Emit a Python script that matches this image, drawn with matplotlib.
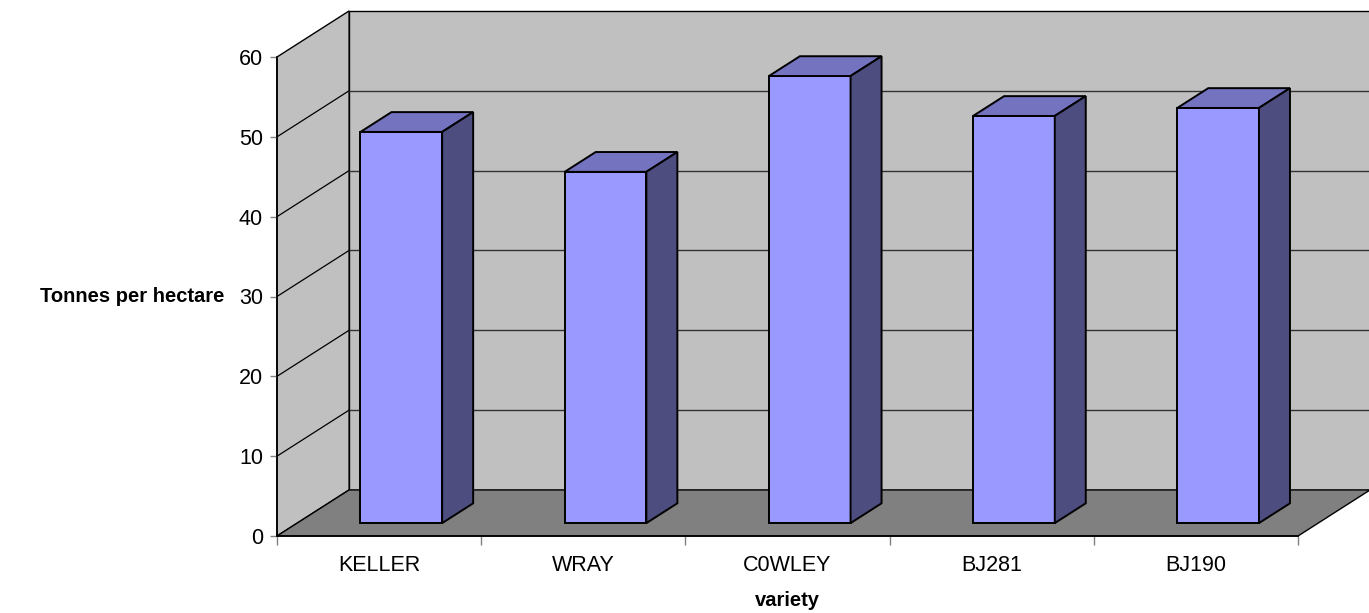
import matplotlib

matplotlib.use("Agg")
import matplotlib.pyplot as plt
from matplotlib.patches import Polygon

varieties = ["KELLER", "WRAY", "C0WLEY", "BJ281", "BJ190"]
tonnes = [49, 44, 56, 51, 52]
y_ticks = [0, 10, 20, 30, 40, 50, 60]

# oblique depth of the 3-D box, in data units (x = categories, y = tonnes)
DX, DY = 0.353, 5.77
BAR_W = 0.40
F0, F1 = 0.28, 0.71  # bar occupies this slice of the box depth

WALL = "#c0c0c0"
FLOOR = "#808080"
FRONT = "#9999ff"
TOP = "#7373bf"
SIDE = "#4d4d80"

plt.rcParams["font.family"] = ["Liberation Sans", "DejaVu Sans"]

fig = plt.figure(figsize=(13.69, 6.13), dpi=100)
ax = fig.add_axes([277 / 1369, 77 / 613, 1021 / 1369, 479 / 613])
n = len(varieties)
ymax = y_ticks[-1]
ax.set_xlim(0, n)
ax.set_ylim(0, ymax)
ax.set_facecolor("none")
for s in ax.spines.values():
    s.set_visible(False)


def poly(pts, fc, ec="black", lw=1.0, z=1):
    ax.add_patch(Polygon(pts, closed=True, facecolor=fc, edgecolor=ec,
                         linewidth=lw, zorder=z, clip_on=False, joinstyle="miter"))


# walls and floor
poly([(DX, DY), (n + DX, DY), (n + DX, ymax + DY), (DX, ymax + DY)], WALL, z=1)
poly([(0, 0), (DX, DY), (DX, ymax + DY), (0, ymax)], WALL, z=1)
poly([(0, 0), (n, 0), (n + DX, DY), (DX, DY)], FLOOR, z=2)

# gridlines on the back and side walls
for v in y_ticks[1:-1]:
    ax.plot([DX, n + DX], [v + DY, v + DY], color="#333333", lw=1.0,
            zorder=1.5, clip_on=False)
    ax.plot([0, DX], [v, v + DY], color="black", lw=0.9, zorder=1.5, clip_on=False)

# bars
for i, v in enumerate(tonnes):
    x0 = i + 0.51 - BAR_W / 2 + F0 * DX
    y0 = F0 * DY
    ddx, ddy = (F1 - F0) * DX, (F1 - F0) * DY
    x1 = x0 + BAR_W
    poly([(x0, y0), (x1, y0), (x1, y0 + v), (x0, y0 + v)], FRONT, lw=1.4, z=5)
    poly([(x0, y0 + v), (x1, y0 + v), (x1 + ddx, y0 + v + ddy), (x0 + ddx, y0 + v + ddy)],
         TOP, lw=1.4, z=5)
    poly([(x1, y0), (x1 + ddx, y0 + ddy), (x1 + ddx, y0 + v + ddy), (x1, y0 + v)],
         SIDE, lw=1.4, z=5)

# front axis lines
ax.plot([0, n], [0, 0], color="black", lw=1.2, zorder=6, clip_on=False)
ax.plot([0, 0], [0, ymax], color="black", lw=1.2, zorder=6, clip_on=False)

ax.set_yticks(y_ticks)
ax.set_yticklabels([str(t) for t in y_ticks], fontsize=15.5)
ax.tick_params(axis="y", length=5, width=1.0, color="#808080", pad=5)

ax.set_xticks(range(n + 1))
ax.set_xticklabels([])
ax.set_xticks([i + 0.5 for i in range(n)], minor=True)
ax.set_xticklabels(varieties, minor=True, fontsize=15.5)
ax.tick_params(axis="x", which="major", length=6.5, width=1.0, color="#808080")
ax.tick_params(axis="x", which="minor", length=0, pad=14)

ax.set_xlabel("variety", fontsize=14.5, fontweight="bold", labelpad=10.5)
ax.set_ylabel("Tonnes per hectare", fontsize=14.5, fontweight="bold",
              rotation=0, ha="right", va="center")
ax.yaxis.set_label_coords(-53 / 1021, 0.5)

fig.savefig("out.png", dpi=100)
